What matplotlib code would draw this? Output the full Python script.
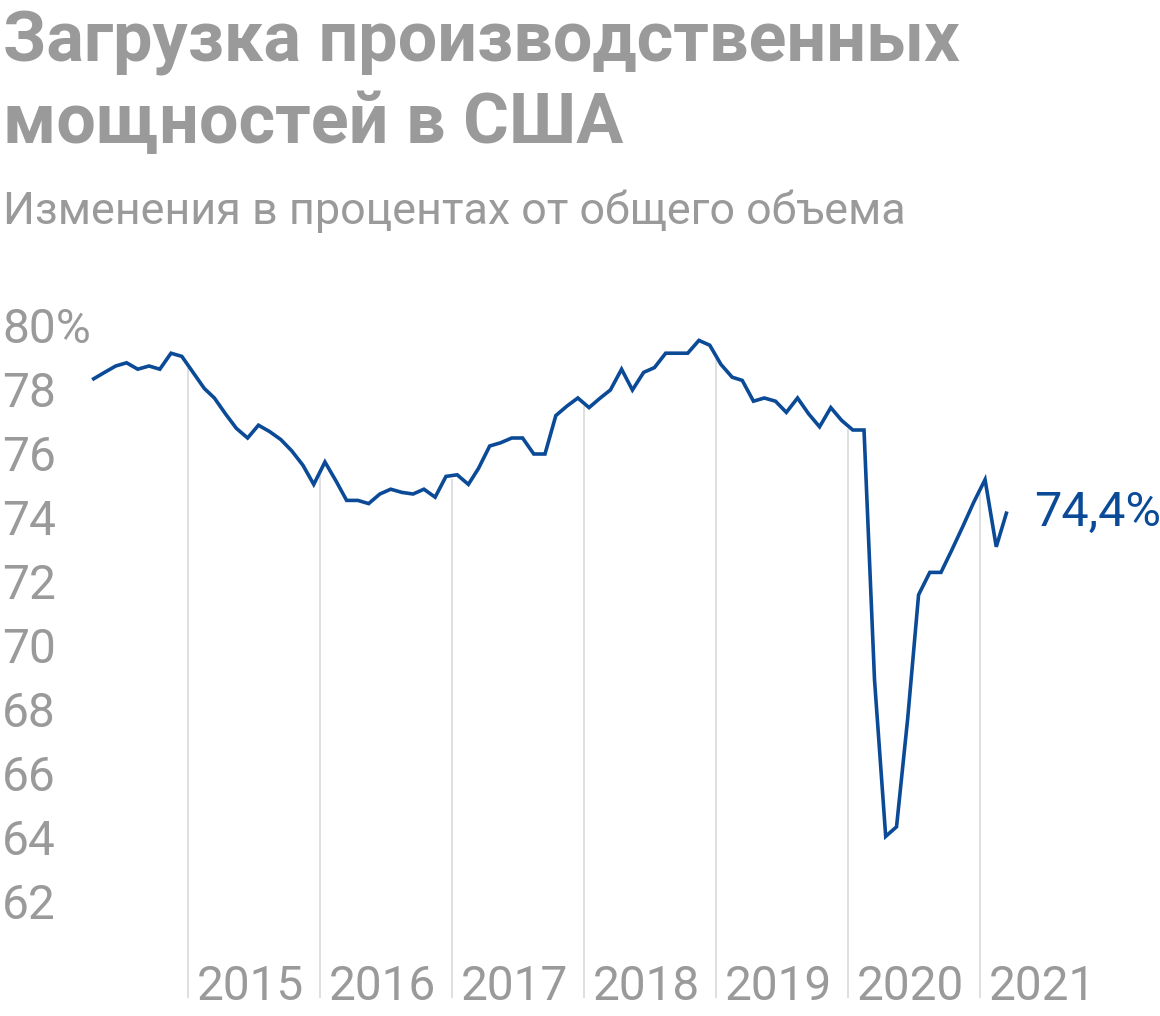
import numpy as np
import pandas as pd
import matplotlib
matplotlib.use("Agg")
import matplotlib.pyplot as plt
import matplotlib.dates as mdates
from matplotlib.transforms import offset_copy

# ---------------- data ----------------
start_month = "2014-04"
values = [
    78.6, 78.8, 79.0, 79.1, 78.9, 79.0, 78.9, 79.4, 79.3,          # Apr-Dec 2014
    78.8, 78.3, 78.0, 77.5, 77.05, 76.75, 77.15, 76.95, 76.7, 76.35, 75.9, 75.3,   # 2015
    76.0, 75.4, 74.8, 74.8, 74.7, 75.0, 75.15, 75.05, 75.0, 75.15, 74.9, 75.55,    # 2016
    75.6, 75.3, 75.8, 76.5, 76.6, 76.75, 76.75, 76.25, 76.25, 77.45, 77.75, 78.0,  # 2017
    77.7, 78.0, 78.25, 78.9, 78.25, 78.8, 78.95, 79.4, 79.4, 79.4, 79.8, 79.65,    # 2018
    79.05, 78.65, 78.55, 77.9, 78.0, 77.9, 77.55, 78.0, 77.5, 77.1, 77.7, 77.3,    # 2019
    77.0, 77.0, 69.2, 64.3, 64.6, 68.0, 71.85, 72.55, 72.55, 73.25, 74.0, 74.75,   # 2020
    75.45, 73.35, 74.4,                                                            # 2021
]
year_labels = ["2015", "2016", "2017", "2018", "2019", "2020", "2021"]
y_ticks = [80, 78, 76, 74, 72, 70, 68, 66, 64, 62]
y_tick_labels = ["80%", "78", "76", "74", "72", "70", "68", "66", "64", "62"]
last_label = "74,4%"
title = "Загрузка производственных\nмощностей в США"
subtitle = "Изменения в процентах от общего объема"

# ---------------- style ----------------
W, H = 1160, 1016
GRAY = "#9a9a9a"
BLUE = "#0b4a96"
GRID = "#dcdcdc"
plt.rcParams["font.family"] = ["Roboto", "DejaVu Sans"]

dates = pd.date_range(start_month, periods=len(values), freq="MS") + pd.Timedelta(days=14)
xnum = mdates.date2num(dates.to_pydatetime())
vals = np.array(values)

fig = plt.figure(figsize=(W / 100, H / 100), dpi=100)
ax = fig.add_axes([0, 0, 1, 1])
ax.set_axis_off()

# pixel <-> data mapping
d15 = mdates.date2num(pd.Timestamp("2015-01-01").to_pydatetime())
d21 = mdates.date2num(pd.Timestamp("2021-01-01").to_pydatetime())
ppd = (980 - 188) / (d21 - d15)
ax.set_xlim(d15 - 188 / ppd, d15 + (W - 188) / ppd)
ppu = 32.0
y80 = 334
ax.set_ylim(80 - (H - y80) / ppu, 80 + y80 / ppu)

bottom_val = 80 - (998 - y80) / ppu

# year gridlines from the line down
for lab in year_labels:
    xd = mdates.date2num(pd.Timestamp(f"{lab}-01-01").to_pydatetime())
    top = np.interp(xd, xnum, vals)
    ax.vlines(xd, bottom_val, top - 0.1, color=GRID, lw=1.3, zorder=1)
    ax.text(xd, 80 - (1000 - y80) / ppu, lab,
            transform=offset_copy(ax.transData, fig=fig, x=9, y=0, units="dots"),
            ha="left", va="baseline", fontsize=34.4, color=GRAY)

ax.plot(xnum, vals, color=BLUE, lw=2.6, zorder=3, solid_joinstyle="miter")

# y labels
ytr = offset_copy(ax.get_yaxis_transform(), fig=fig, x=2, y=4, units="dots")
for v, lab in zip(y_ticks, y_tick_labels):
    ax.text(0, v, lab, transform=ytr, ha="left", va="center",
            fontsize=34.5, color=GRAY)

# end label
ax.text(xnum[-1], vals[-1], last_label,
        transform=offset_copy(ax.transData, fig=fig, x=28, y=0, units="dots"),
        ha="left", va="center", fontsize=35, color=BLUE)

# titles
fig.text(3 / W, 1 - 62 / H, title.split("\n")[0], ha="left", va="baseline",
         fontsize=50.5, fontweight="bold", color=GRAY)
fig.text(3 / W, 1 - 143 / H, title.split("\n")[1], ha="left", va="baseline",
         fontsize=50.5, fontweight="bold", color=GRAY)
fig.text(3 / W, 1 - 224 / H, subtitle, ha="left", va="baseline",
         fontsize=32.3, color=GRAY)

fig.savefig("out.png", dpi=100)
